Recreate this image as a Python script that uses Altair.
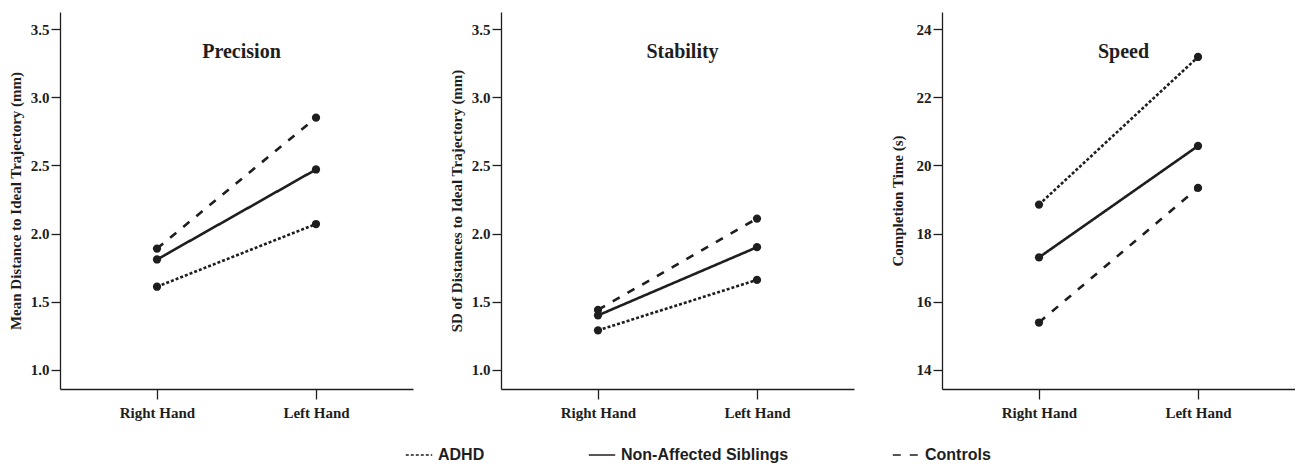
import altair as alt
import pandas as pd

hands = ["Right Hand", "Left Hand"]
groups = ["ADHD", "Non-Affected Siblings", "Controls"]

precision_adhd = [1.61, 2.07]
precision_siblings = [1.81, 2.47]
precision_controls = [1.89, 2.85]

stability_adhd = [1.29, 1.66]
stability_siblings = [1.40, 1.90]
stability_controls = [1.44, 2.11]

speed_adhd = [18.85, 23.18]
speed_siblings = [17.30, 20.57]
speed_controls = [15.39, 19.34]

ticks_mm = [1.0, 1.5, 2.0, 2.5, 3.0, 3.5]
ticks_s = [14, 16, 18, 20, 22, 24]

dash_patterns = [[3, 2], [1, 0], [8, 9]]

INK = "#1e1e1e"
SERIF = "Liberation Serif"
SANS = "Liberation Sans"
W, H = 353, 377


def make_df(a, s, c):
    rows = []
    for g, vals in zip(groups, [a, s, c]):
        for h, v in zip(hands, vals):
            rows.append({"hand": h, "group": g, "value": v})
    return pd.DataFrame(rows)


def panel(df, title, ytitle, domain, ticks, fmt):
    x = alt.X(
        "hand:N",
        sort=hands,
        scale=alt.Scale(type="point", padding=0.61),
        axis=alt.Axis(title=None, labelAngle=0, tickSize=10, labelPadding=6,
                      labelFontSize=15),
    )
    y = alt.Y(
        "value:Q",
        scale=alt.Scale(domain=domain, nice=False, zero=False),
        axis=alt.Axis(values=ticks, format=fmt, title=ytitle, grid=False,
                      tickSize=9, labelPadding=2, titlePadding=4,
                      labelFontSize=15, titleFontSize=15,
                      minExtent=33, maxExtent=33),
    )
    lines = alt.Chart(df).mark_line(color=INK, strokeWidth=2.6).encode(
        x=x,
        y=y,
        strokeDash=alt.StrokeDash(
            "group:N",
            sort=groups,
            scale=alt.Scale(domain=groups, range=dash_patterns),
            legend=alt.Legend(
                orient="none", legendX=345, legendY=429, direction="horizontal",
                title=None, columnPadding=100, padding=0, labelLimit=0,
                labelFont=SANS, labelFontWeight="bold", labelFontSize=16,
                labelColor=INK, labelOffset=5,
                symbolType="stroke", symbolSize=700, symbolStrokeWidth=1.5,
                symbolStrokeColor=INK,
            ),
        ),
    )
    pts = alt.Chart(df).mark_circle(size=68, color=INK, opacity=1).encode(
        x=x, y=y, detail="group:N"
    )
    ttl = alt.Chart(pd.DataFrame({"t": [title]})).mark_text(
        font=SERIF, fontWeight="bold", fontSize=20, color=INK, baseline="middle"
    ).encode(text="t:N", x=alt.value(W / 2 + 5), y=alt.value(40))
    return alt.layer(lines, pts, ttl).properties(width=W, height=H)


p1 = panel(make_df(precision_adhd, precision_siblings, precision_controls),
           "Precision", "Mean Distance to Ideal Trajectory (mm)",
           [0.86, 3.625], ticks_mm, ".1f")
p2 = panel(make_df(stability_adhd, stability_siblings, stability_controls),
           "Stability", "SD of Distances to Ideal Trajectory (mm)",
           [0.86, 3.625], ticks_mm, ".1f")
p3 = panel(make_df(speed_adhd, speed_siblings, speed_controls),
           "Speed", "Completion Time (s)",
           [13.44, 24.5], ticks_s, "d")

chart = (
    alt.hconcat(p1, p2, p3, spacing=36)
    .resolve_scale(x="independent", y="independent", strokeDash="shared")
    .resolve_legend(strokeDash="shared")
    .properties(padding={"left": 0, "top": 4, "right": 0, "bottom": 0})
    .configure_view(stroke=None)
    .configure_axis(
        domainColor=INK, tickColor=INK, labelColor=INK, titleColor=INK,
        domainWidth=1.3, tickWidth=1.3,
        labelFont=SERIF, labelFontWeight="bold", labelFontSize=14,
        titleFont=SERIF, titleFontWeight="bold", titleFontSize=14,
    )
)

chart.save("out.html", embed_options={"renderer": "svg", "actions": False})
